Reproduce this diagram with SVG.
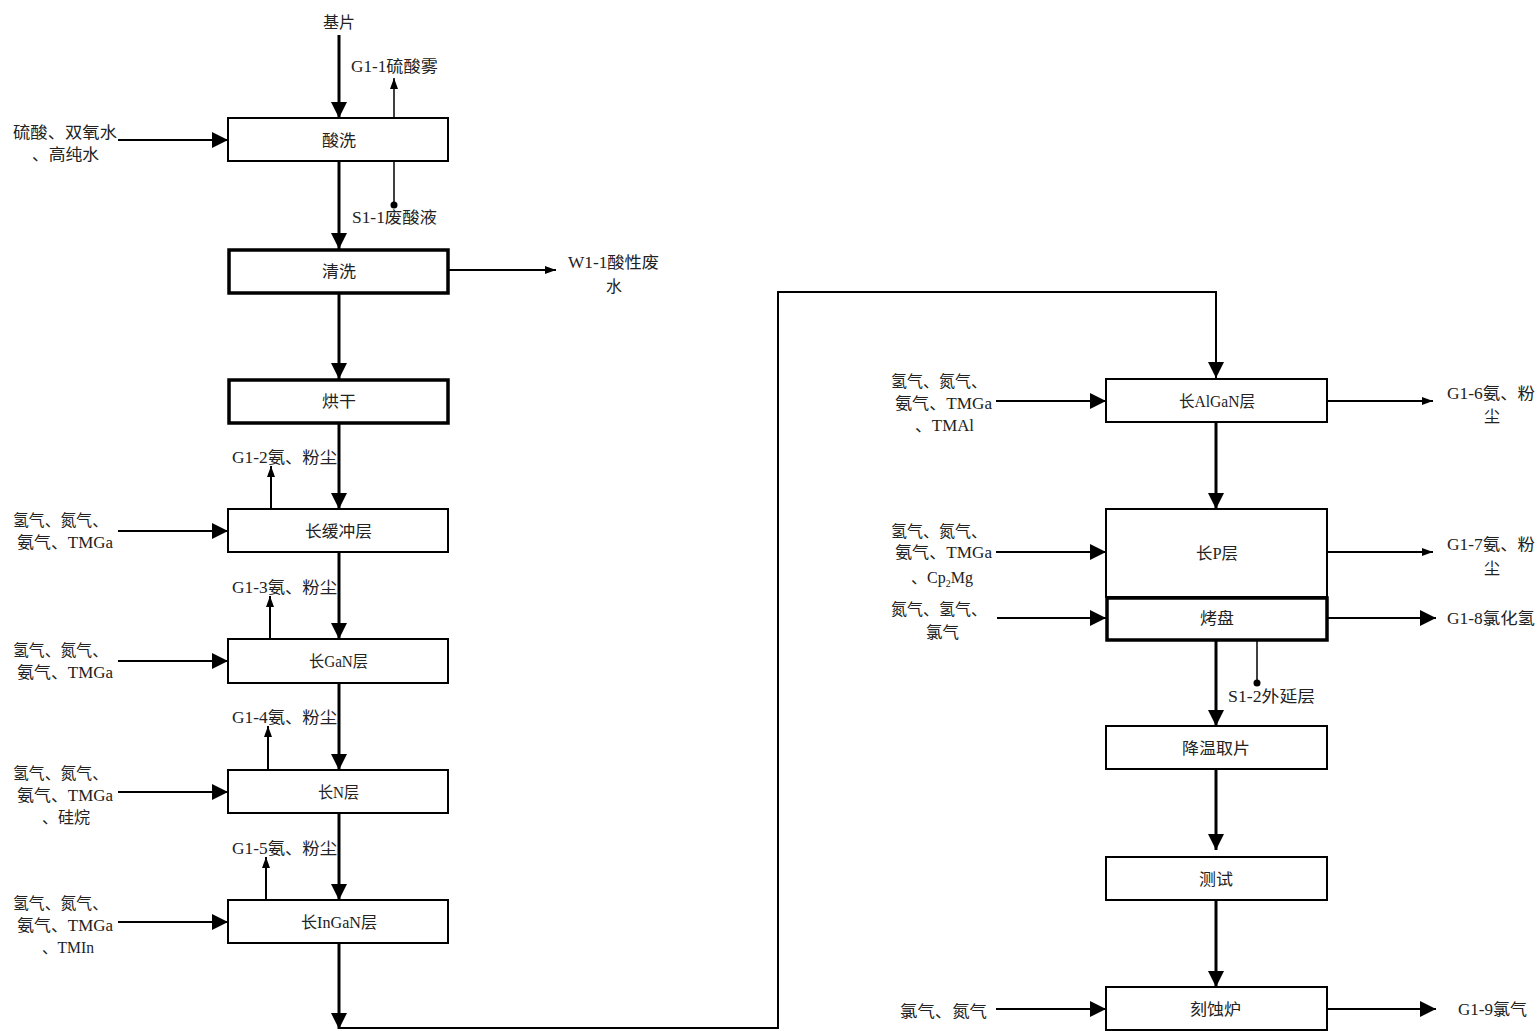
<svg xmlns="http://www.w3.org/2000/svg" width="1537" height="1031" viewBox="0 0 1537 1031">
<style>
text{font-family:"Liberation Serif","Noto Sans CJK SC",serif;font-size:16px;fill:#222}
.c{text-anchor:middle}
.box{fill:#fff;stroke:#000;stroke-width:2}
.thick{fill:#fff;stroke:#000;stroke-width:3.5}
.m{stroke:#000;stroke-width:3;fill:none}
.t{stroke:#000;stroke-width:2;fill:none}
.s{stroke:#000;stroke-width:1.5;fill:none}
</style>
<defs>
<marker id="big" markerUnits="userSpaceOnUse" markerWidth="18" markerHeight="16" refX="16" refY="8" orient="auto"><path d="M0,0L16,8L0,16Z" fill="#000"/></marker>
<marker id="sm" markerUnits="userSpaceOnUse" markerWidth="12" markerHeight="8" refX="11" refY="4" orient="auto"><path d="M0,0L11,4L0,8Z" fill="#000"/></marker>
<marker id="dot" markerUnits="userSpaceOnUse" markerWidth="8" markerHeight="8" refX="4" refY="4"><circle cx="4" cy="4" r="3.5" fill="#000"/></marker>
</defs>
<g id="connectors">
<path class="m" d="M339,35V118" marker-end="url(#big)"/>
<path class="s" d="M394,118V78" marker-end="url(#sm)"/>
<path class="s" d="M394,161V205" marker-end="url(#dot)"/>
<path class="t" d="M118,140H228" marker-end="url(#big)"/>
<path class="m" d="M339,161V249" marker-end="url(#big)"/>
<path class="t" d="M448,270H556" marker-end="url(#sm)"/>
<path class="m" d="M339,293V379" marker-end="url(#big)"/>
<path class="m" d="M339,423V509" marker-end="url(#big)"/>
<path class="t" d="M271,509V466" marker-end="url(#sm)"/>
<path class="t" d="M118,531H228" marker-end="url(#big)"/>
<path class="m" d="M339,552V639" marker-end="url(#big)"/>
<path class="t" d="M270,639V596" marker-end="url(#sm)"/>
<path class="t" d="M118,661H228" marker-end="url(#big)"/>
<path class="m" d="M339,683V770" marker-end="url(#big)"/>
<path class="t" d="M268,770V726" marker-end="url(#sm)"/>
<path class="t" d="M118,792H228" marker-end="url(#big)"/>
<path class="m" d="M339,813V900" marker-end="url(#big)"/>
<path class="t" d="M266,900V857" marker-end="url(#sm)"/>
<path class="t" d="M118,922H228" marker-end="url(#big)"/>
<path class="m" d="M339,943V1029" marker-end="url(#big)"/>
<path class="t" d="M339,1028H778V292H1216V378" marker-end="url(#big)"/>
<path class="t" d="M996,401H1106" marker-end="url(#big)"/>
<path class="t" d="M1327,401H1433" marker-end="url(#sm)"/>
<path class="m" d="M1216,422V509" marker-end="url(#big)"/>
<path class="t" d="M996,552H1106" marker-end="url(#big)"/>
<path class="t" d="M1327,552H1433" marker-end="url(#sm)"/>
<path class="t" d="M997,618H1106" marker-end="url(#big)"/>
<path class="t" d="M1327,618H1436" marker-end="url(#big)"/>
<path class="s" d="M1257,640V683" marker-end="url(#dot)"/>
<path class="m" d="M1216,640V726" marker-end="url(#big)"/>
<path class="m" d="M1216,769V850" marker-end="url(#big)"/>
<path class="m" d="M1216,900V987" marker-end="url(#big)"/>
<path class="t" d="M996,1009H1106" marker-end="url(#big)"/>
<path class="t" d="M1327,1009H1436" marker-end="url(#big)"/>
</g>
<g id="n-jipian"><text x="323" y="28" textLength="32" lengthAdjust="spacingAndGlyphs">基片</text></g>
<g id="n-g11"><text x="351" y="72" textLength="87" lengthAdjust="spacingAndGlyphs">G1-1硫酸雾</text></g>
<g id="n-in1"><text x="13" y="138" textLength="104" lengthAdjust="spacingAndGlyphs">硫酸、双氧水</text><text x="32" y="160" textLength="67" lengthAdjust="spacingAndGlyphs">、高纯水</text></g>
<g id="n-suanxi"><rect class="box" x="228" y="118" width="220" height="43"/><text x="322" y="146" textLength="34" lengthAdjust="spacingAndGlyphs">酸洗</text></g>
<g id="n-s11"><text x="352" y="223" textLength="85" lengthAdjust="spacingAndGlyphs">S1-1废酸液</text></g>
<g id="n-qingxi"><rect class="thick" x="229" y="250" width="219" height="43"/><text x="322" y="277" textLength="34" lengthAdjust="spacingAndGlyphs">清洗</text></g>
<g id="n-w11"><text x="568" y="268" textLength="91" lengthAdjust="spacingAndGlyphs">W1-1酸性废</text><text class="c" x="614" y="292">水</text></g>
<g id="n-honggan"><rect class="thick" x="229" y="380" width="219" height="43"/><text x="322" y="407" textLength="34" lengthAdjust="spacingAndGlyphs">烘干</text></g>
<g id="n-g12"><text x="232" y="463" textLength="105" lengthAdjust="spacingAndGlyphs">G1-2氨、粉尘</text></g>
<g id="n-in2"><text x="13" y="526" textLength="95" lengthAdjust="spacingAndGlyphs">氢气、氮气、</text><text x="17" y="548" textLength="96" lengthAdjust="spacingAndGlyphs">氨气、TMGa</text></g>
<g id="n-huanchong"><rect class="box" x="228" y="509" width="220" height="43"/><text x="305" y="537" textLength="67" lengthAdjust="spacingAndGlyphs">长缓冲层</text></g>
<g id="n-g13"><text x="232" y="593" textLength="105" lengthAdjust="spacingAndGlyphs">G1-3氨、粉尘</text></g>
<g id="n-in3"><text x="13" y="656" textLength="95" lengthAdjust="spacingAndGlyphs">氢气、氮气、</text><text x="17" y="678" textLength="96" lengthAdjust="spacingAndGlyphs">氨气、TMGa</text></g>
<g id="n-gan"><rect class="box" x="228" y="639" width="220" height="44"/><text x="309" y="667" textLength="59" lengthAdjust="spacingAndGlyphs">长GaN层</text></g>
<g id="n-g14"><text x="232" y="723" textLength="105" lengthAdjust="spacingAndGlyphs">G1-4氨、粉尘</text></g>
<g id="n-in4"><text x="13" y="779" textLength="95" lengthAdjust="spacingAndGlyphs">氢气、氮气、</text><text x="17" y="801" textLength="96" lengthAdjust="spacingAndGlyphs">氨气、TMGa</text><text x="42" y="823" textLength="48" lengthAdjust="spacingAndGlyphs">、硅烷</text></g>
<g id="n-n"><rect class="box" x="228" y="770" width="220" height="43"/><text x="318" y="798" textLength="41" lengthAdjust="spacingAndGlyphs">长N层</text></g>
<g id="n-g15"><text x="232" y="854" textLength="105" lengthAdjust="spacingAndGlyphs">G1-5氨、粉尘</text></g>
<g id="n-in5"><text x="13" y="909" textLength="95" lengthAdjust="spacingAndGlyphs">氢气、氮气、</text><text x="17" y="931" textLength="96" lengthAdjust="spacingAndGlyphs">氨气、TMGa</text><text x="42" y="953" textLength="52" lengthAdjust="spacingAndGlyphs">、TMIn</text></g>
<g id="n-ingan"><rect class="box" x="228" y="900" width="220" height="43"/><text x="301" y="928" textLength="76" lengthAdjust="spacingAndGlyphs">长InGaN层</text></g>
<g id="n-in6"><text x="891" y="387" textLength="96" lengthAdjust="spacingAndGlyphs">氢气、氮气、</text><text x="895" y="409" textLength="97" lengthAdjust="spacingAndGlyphs">氨气、TMGa</text><text x="915" y="431" textLength="59" lengthAdjust="spacingAndGlyphs">、TMAl</text></g>
<g id="n-algan"><rect class="box" x="1106" y="379" width="221" height="43"/><text x="1179" y="407" textLength="76" lengthAdjust="spacingAndGlyphs">长AlGaN层</text></g>
<g id="n-g16"><text x="1447" y="399" textLength="88" lengthAdjust="spacingAndGlyphs">G1-6氨、粉</text><text class="c" x="1492" y="422">尘</text></g>
<g id="n-in7"><text x="891" y="537" textLength="96" lengthAdjust="spacingAndGlyphs">氢气、氮气、</text><text x="895" y="558" textLength="97" lengthAdjust="spacingAndGlyphs">氨气、TMGa</text><text x="911" y="583">、Cp<tspan font-size="10" dy="4">2</tspan><tspan dy="-4">Mg</tspan></text></g>
<g id="n-p"><rect class="box" x="1106" y="509" width="221" height="88"/><text x="1196" y="559" textLength="42" lengthAdjust="spacingAndGlyphs">长P层</text></g>
<g id="n-g17"><text x="1447" y="550" textLength="88" lengthAdjust="spacingAndGlyphs">G1-7氨、粉</text><text class="c" x="1492" y="574">尘</text></g>
<g id="n-in8"><text x="891" y="615" textLength="96" lengthAdjust="spacingAndGlyphs">氮气、氢气、</text><text x="926" y="638" textLength="33" lengthAdjust="spacingAndGlyphs">氯气</text></g>
<g id="n-kaopan"><rect class="thick" x="1107" y="598" width="220" height="42"/><text x="1200" y="624" textLength="34" lengthAdjust="spacingAndGlyphs">烤盘</text></g>
<g id="n-g18"><text x="1447" y="624" textLength="88" lengthAdjust="spacingAndGlyphs">G1-8氯化氢</text></g>
<g id="n-s12"><text x="1228" y="702" textLength="87" lengthAdjust="spacingAndGlyphs">S1-2外延层</text></g>
<g id="n-jiangwen"><rect class="box" x="1106" y="726" width="221" height="43"/><text x="1182" y="754" textLength="68" lengthAdjust="spacingAndGlyphs">降温取片</text></g>
<g id="n-ceshi"><rect class="box" x="1106" y="857" width="221" height="43"/><text x="1199" y="885" textLength="34" lengthAdjust="spacingAndGlyphs">测试</text></g>
<g id="n-in9"><text x="900" y="1017" textLength="87" lengthAdjust="spacingAndGlyphs">氯气、氮气</text></g>
<g id="n-keshi"><rect class="box" x="1106" y="987" width="221" height="43"/><text x="1190" y="1015" textLength="51" lengthAdjust="spacingAndGlyphs">刻蚀炉</text></g>
<g id="n-g19"><text x="1458" y="1015" textLength="69" lengthAdjust="spacingAndGlyphs">G1-9氯气</text></g>
</svg>
